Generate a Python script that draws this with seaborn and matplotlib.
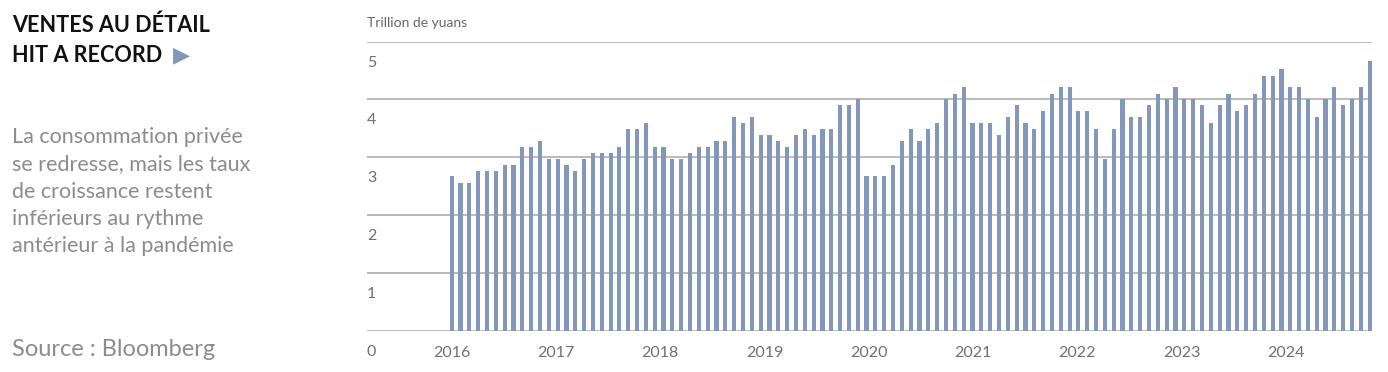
import numpy as np
import pandas as pd
import matplotlib
matplotlib.use("Agg")
import matplotlib.pyplot as plt
import seaborn as sns

# ---- data (trillion yuan, monthly) ----
values = [
    2.67, 2.56, 2.55, 2.76, 2.76, 2.76, 2.87, 2.87, 3.18, 3.18, 3.28, 2.97, 2.97, 2.87, 2.76, 2.97, 3.07, 3.07, 3.07, 3.18, 3.49,
    3.49, 3.59, 3.18, 3.18, 2.97, 2.97, 3.07, 3.18, 3.18, 3.28, 3.28, 3.70, 3.59, 3.70, 3.39, 3.39, 3.28, 3.18, 3.39, 3.49, 3.39,
    3.49, 3.49, 3.90, 3.90, 4.00, 2.67, 2.67, 2.67, 2.87, 3.28, 3.49, 3.28, 3.49, 3.59, 4.00, 4.10, 4.21, 3.59, 3.59, 3.59, 3.39,
    3.70, 3.90, 3.59, 3.49, 3.80, 4.10, 4.21, 4.21, 3.80, 3.80, 3.49, 2.97, 3.49, 4.00, 3.70, 3.70, 3.90, 4.10, 4.00, 4.21, 4.00,
    4.00, 3.90, 3.59, 3.90, 4.10, 3.80, 3.90, 4.10, 4.41, 4.41, 4.52, 4.21, 4.21, 4.00, 3.70, 4.00, 4.21, 3.90, 4.00, 4.21, 4.66,
]
year_labels = ["2016", "2017", "2018", "2019", "2020", "2021", "2022", "2023", "2024"]
y_ticks = [0, 1, 2, 3, 4, 5]

title_line1 = "VENTES AU DÉTAIL"
title_line2 = "HIT A RECORD"
body_text = ("La consommation privée\nse redresse, mais les taux\nde croissance restent\n"
             "inférieurs au rythme\nantérieur à la pandémie")
source_text = "Source : Bloomberg"
unit_text = "Trillion de yuans"

BAR = "#8397BA"
GRID = "#B4B4B4"
GREY = "#707070"
FONT = ["Lato", "DejaVu Sans"]

sns.set_theme(style="white")
plt.rcParams["font.family"] = FONT

W, H = 1388, 372
fig = plt.figure(figsize=(W / 100, H / 100), dpi=100)

ax_l, ax_r = 367, 1372
ax_bot, ax_top = 330.7, 41.7
ax = fig.add_axes([ax_l / W, 1 - ax_bot / H, (ax_r - ax_l) / W, (ax_bot - ax_top) / H])

df = pd.DataFrame({"idx": np.arange(len(values)), "val": values})
sns.barplot(data=df, x="idx", y="val", native_scale=True, width=0.47,
            color=BAR, saturation=1, ax=ax, linewidth=0)

step = 8.827  # px per bar
ax.set_xlim((ax_l - 451.7) / step, (ax_r - 451.7) / step)
ax.set_ylim(0, 5)
for s in ax.spines.values():
    s.set_visible(False)

ax.set_yticks(y_ticks)
ax.yaxis.grid(True, color=GRID, linewidth=1.3)
ax.set_axisbelow(True)
ax.tick_params(axis="y", left=False, labelleft=False)
ax.set_xlabel("")
ax.set_ylabel("")

year_pos = [k * 104.25 / step for k in range(len(year_labels))]
ax.set_xticks(year_pos)
ax.set_xticklabels(year_labels, fontsize=11.5, color=GREY)
ax.tick_params(axis="x", bottom=False, pad=5)

for v in y_ticks:
    ax.text(0.0, v - 0.36, str(v), transform=ax.get_yaxis_transform(),
            ha="left", va="center", fontsize=11.5, color=GREY, clip_on=False)

fig.text(367 / W, 1 - 23 / H, unit_text, ha="left", va="center", fontsize=10, color="#666666")

fig.text(12 / W, 1 - 32 / H, title_line1, ha="left", va="baseline", fontsize=15.6,
         fontweight="bold", color="#111111")
fig.text(12 / W, 1 - 62 / H, title_line2, ha="left", va="baseline", fontsize=15.6,
         fontweight="bold", color="#111111")
fig.text(173 / W, 1 - 61 / H, "▶", ha="left", va="baseline", fontsize=16,
         color=BAR, family="DejaVu Sans")
fig.text(12 / W, 1 - 252 / H, body_text, ha="left", va="baseline", fontsize=15.5,
         color="#8C8C8F", linespacing=1.45)
fig.text(12 / W, 1 - 356 / H, source_text, ha="left", va="baseline", fontsize=17,
         color="#8C8C8F")

fig.savefig("out.png", dpi=100)
